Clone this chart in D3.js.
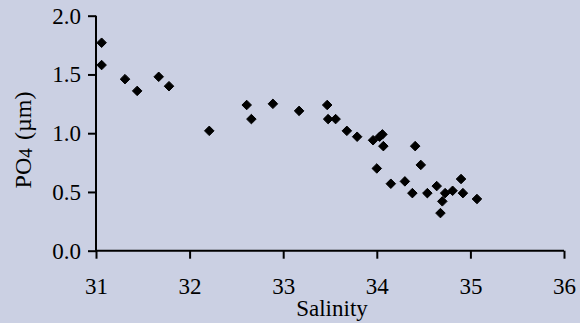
<!DOCTYPE html>
<html>
<head>
<meta charset="utf-8">
<script src="https://cdn.jsdelivr.net/npm/d3@7"></script>
<style>
  html, body { margin: 0; padding: 0; background: #cbd0e3; }
  svg { display: block; }
  text { font-family: "Liberation Serif", "Times New Roman", serif; fill: #000; }
</style>
</head>
<body>
<svg id="chart" width="580" height="323"></svg>
<script>
// Salinity vs. phosphate samples
const salinity = [
  31.06, 31.06, 31.31, 31.44, 31.67, 31.78, 32.21, 32.61, 32.66, 32.89,
  33.17, 33.47, 33.48, 33.56, 33.68, 33.79, 33.96, 34.03, 34.06, 34.07,
  34.41, 34.47, 34.00, 34.15, 34.30, 34.38, 34.54, 34.64, 34.73, 34.81,
  34.90, 34.92, 35.07, 34.70, 34.68
];
const po4 = [
  1.77, 1.58, 1.46, 1.36, 1.48, 1.40, 1.02, 1.24, 1.12, 1.25,
  1.19, 1.24, 1.12, 1.12, 1.02, 0.97, 0.94, 0.97, 0.99, 0.89,
  0.89, 0.73, 0.70, 0.57, 0.59, 0.49, 0.49, 0.55, 0.49, 0.51,
  0.61, 0.49, 0.44, 0.42, 0.32
];
const xTicks = [31, 32, 33, 34, 35, 36];
const yTicks = [0, 0.5, 1.0, 1.5, 2.0];

const svg = d3.select("#chart");
const margin = { left: 96, right: 16, top: 15.7, bottom: 72.3 };
const W = 580, H = 323;

const x = d3.scaleLinear().domain([31, 36]).range([margin.left, W - margin.right]);
const y = d3.scaleLinear().domain([0, 2]).range([H - margin.bottom, margin.top]);

const fontSize = 23;

// x axis
const xAxis = svg.append("g")
  .attr("transform", `translate(0,${y(0)})`)
  .call(d3.axisBottom(x).tickValues(xTicks).tickFormat(d3.format("d")).tickSize(8).tickPadding(19));
// y axis
const yAxis = svg.append("g")
  .attr("transform", `translate(${x(31)},0)`)
  .call(d3.axisLeft(y).tickValues(yTicks).tickFormat(d3.format(".1f")).tickSize(8).tickPadding(7));

[xAxis, yAxis].forEach(g => {
  g.attr("font-family", null).attr("font-size", null);
  g.select(".domain").attr("stroke", "#000").attr("stroke-width", 2);
  g.selectAll(".tick line").attr("stroke", "#000").attr("stroke-width", 2);
  g.selectAll(".tick text")
    .attr("font-size", fontSize).attr("fill", "#000");
});
// plain axis lines without outer end stubs
xAxis.select(".domain").attr("d", `M${x(31)},0H${x(36)}`);
yAxis.select(".domain").attr("d", `M0,${y(0)}V${y(2)}`);

// axis titles
svg.append("text")
  .attr("x", (x(31) + x(36)) / 2 + 2)
  .attr("y", 316)
  .attr("text-anchor", "middle")
  .attr("font-size", fontSize)
  .text("Salinity");

const yt = svg.append("text")
  .attr("transform", `translate(31,140) rotate(-90)`)
  .attr("text-anchor", "middle")
  .attr("font-size", 24);
yt.append("tspan").text("PO");
yt.append("tspan").attr("font-size", 24 * 0.8).attr("dy", 1).text("4");
yt.append("tspan").attr("dy", -1).attr("dx", 2).text(" (µm)");

// diamond markers
const diamond = d3.symbol().type(d3.symbolDiamond2).size(58);
svg.append("g")
  .selectAll("path")
  .data(salinity.map((s, i) => [s, po4[i]]))
  .join("path")
  .attr("d", diamond)
  .attr("transform", d => `translate(${x(d[0])},${y(d[1])})`)
  .attr("fill", "#000")
  .attr("stroke", "#000")
  .attr("stroke-width", 1)
  .attr("stroke-linejoin", "round");
</script>
</body>
</html>
